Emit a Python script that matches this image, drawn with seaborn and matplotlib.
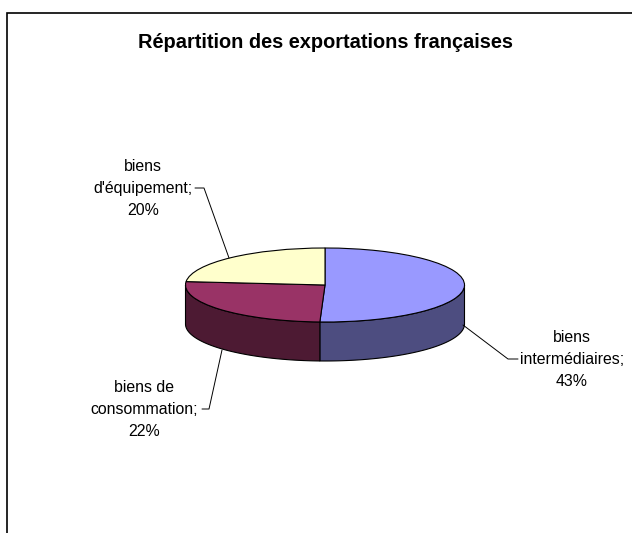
import numpy as np
import matplotlib
matplotlib.use("Agg")
import matplotlib.pyplot as plt
import seaborn as sns

title = "Répartition des exportations françaises"
categories = ["biens\nintermédiaires;", "biens de\nconsommation;", "biens\nd'équipement;"]
values = [43, 22, 20]
top_colors = ["#9999FF", "#993366", "#FFFFCC"]
side_colors = ["#4D4D80", "#4D1A33", "#808066"]

sns.set_theme(style="white", font="Liberation Sans")
W, H = 632, 533
fig = plt.figure(figsize=(W / 100, H / 100), dpi=100, facecolor="white")

# Pie axes: one data unit is one radius, squashed into an ellipse
cx, cy, rx, ry, depth = 325, 285, 139.5, 37, 39
ax = fig.add_axes([0, 0, 1, 1])
wedges, _ = ax.pie(values, colors=top_colors, startangle=90, counterclock=False,
                   radius=1, center=(0, 0),
                   wedgeprops=dict(edgecolor="black", linewidth=0.8, zorder=5))
ax.set_aspect("auto")
ax.set_xlim(-cx / rx, (W - cx) / rx)
ax.set_ylim(-(H - cy) / ry, cy / ry)
ax.axis("off")

# Side wall of the visible lower half, from the slice angles
d = depth / ry
for w, col in zip(wedges, side_colors):
    a0, a1 = sorted((w.theta1 % 360, w.theta2 % 360))
    if w.theta2 % 360 < w.theta1 % 360:
        a0, a1 = w.theta1 % 360, w.theta2 % 360 + 360
    lo, hi = max(a0, 180), min(a1, 360)
    if hi <= lo:
        continue
    t = np.radians(np.linspace(lo, hi, 120))
    xs = np.concatenate([np.cos(t), np.cos(t[::-1])])
    ys = np.concatenate([np.sin(t), np.sin(t[::-1]) - d])
    ax.fill(xs, ys, facecolor=col, edgecolor="black", linewidth=0.8, zorder=2)

# Overlay in pixel coordinates for frame, title, labels and leader lines
ov = fig.add_axes([0, 0, 1, 1], facecolor="none")
ov.set_xlim(0, W)
ov.set_ylim(H, 0)
ov.axis("off")
ov.plot([6.5, 6.5, W], [H, 13, 13], color="black", lw=1.2, solid_joinstyle="miter")
ov.text(325, 42, title, ha="center", va="center", fontsize=14.4,
        fontweight="bold", color="black")

label_pos = [(572, 359.5), (144, 409.5), (143, 188.5)]
leaders = [
    [(463, 325), (508, 359), (518, 359)],
    [(202, 409), (209, 409), (222, 350)],
    [(195, 188), (204, 188), (229, 258)],
]
for cat, v, (x, y), path in zip(categories, values, label_pos, leaders):
    ov.text(x, y, f"{cat}\n{v}%", ha="center", va="center", fontsize=11.4,
            color="black", linespacing=1.58)
    px, py = zip(*path)
    ov.plot(px, py, color="black", lw=0.7)

fig.savefig("out.png", dpi=100, facecolor="white")
